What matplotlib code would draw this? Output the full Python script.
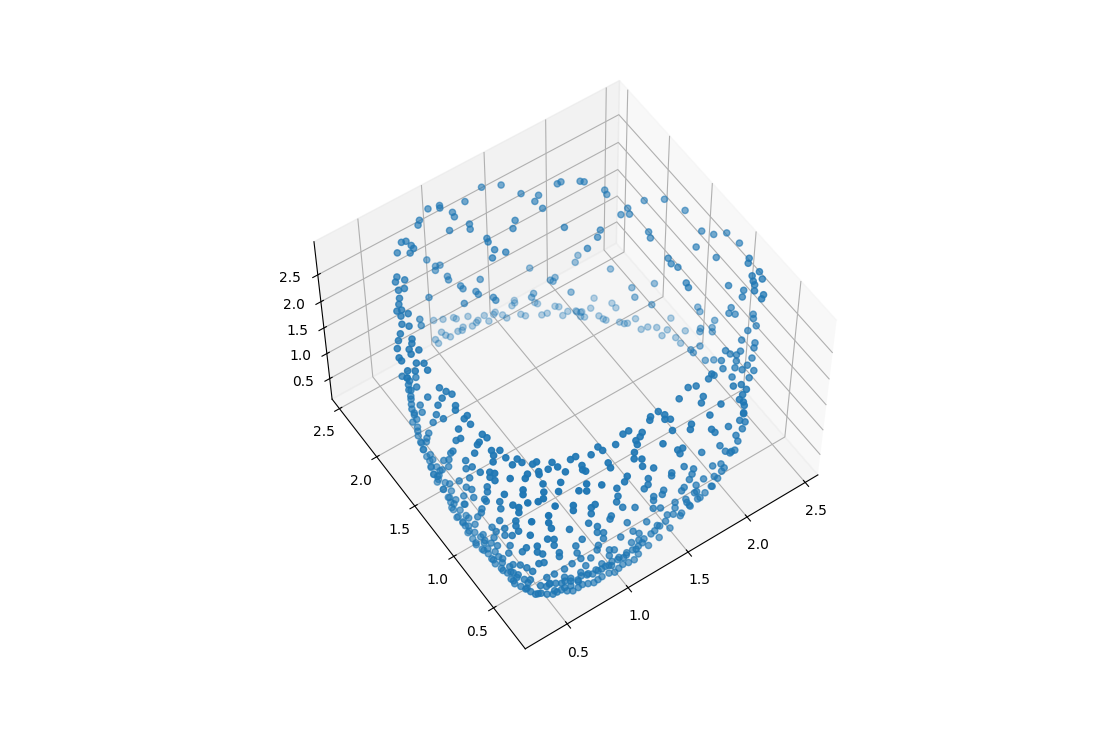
import matplotlib
matplotlib.use('Agg')
import matplotlib.pyplot as plt
import numpy as np

# far ring, z about 0.45
ring_x = [1.57,1.56,1.53,1.68,1.69,1.78,1.80,1.83,1.88,1.91,1.70,1.66,1.78,1.54,1.56,1.40,1.38,1.43,1.44,1.32,
          1.32,1.26,1.24,1.20,1.22,1.13,1.14,1.06,1.00,1.14,1.12,1.09,0.99,1.00,1.02,0.92,0.92,
          1.88,1.90,1.88,1.90,1.98,2.05,1.99,2.00,2.01,2.13,2.13,2.08,2.10,2.12,2.19,2.17,2.22,2.27,2.40,2.32,2.26,2.33,2.33,2.42]
ring_y = [2.52,2.50,2.49,2.42,2.40,2.31,2.29,2.22,2.18,2.16,2.29,2.30,2.21,2.39,2.36,2.51,2.50,2.46,2.42,2.53,
          2.47,2.52,2.51,2.50,2.59,2.64,2.62,2.67,2.70,2.53,2.51,2.52,2.58,2.54,2.51,2.55,2.51,
          2.19,2.16,2.13,2.11,2.15,2.21,2.06,2.02,2.00,2.10,2.05,1.93,1.90,1.89,1.89,1.79,1.78,1.74,1.75,1.68,1.66,1.59,1.53,1.60]
ring_level = 0.45

# back points, z about 1.3
mid_x = [1.61,1.95,1.90,1.71,1.67,1.68,1.73,1.51,1.48,2.07,2.10,2.07,2.25,2.13,2.38,2.37,2.29,2.27,2.41,2.36,2.34,2.20,2.13,2.13,2.16,2.21]
mid_y = [2.37,2.27,2.23,2.20,2.20,2.18,2.03,2.17,2.15,2.04,1.82,1.74,1.76,1.62,1.42,1.38,1.26,1.24,1.26,1.22,1.19,1.14,1.15,1.12,1.02,0.99]
mid_level = 1.3

# left wall points, z about 1.9
wall_x = [0.92,0.94,0.97,0.92,0.96,0.95,1.13,0.99,0.99,1.05,1.05,0.76,1.12,1.12,0.93,0.61,0.59]
wall_y = [2.60,2.52,2.51,2.49,2.40,2.37,2.25,2.28,2.25,2.18,2.15,2.32,2.07,2.04,2.14,2.20,2.15]
wall_level = 1.9

# top arc on the left, z about 2.6
top_x = [1.40,1.52,1.59,1.68,1.63,1.64,1.84,1.87,1.98,2.00,1.00,1.08,1.07,1.24,1.12,1.11,0.90,0.87,1.02,1.16,
         1.14,1.43,1.38,1.67,1.19,1.18,1.18,1.23,1.13,0.70,0.73,0.74,0.74,0.63,0.70]
top_y = [2.63,2.57,2.43,2.35,2.32,2.24,2.36,2.36,2.29,2.27,2.68,2.66,2.64,2.59,2.56,2.52,2.63,2.60,2.44,2.41,
         2.37,2.26,2.21,2.02,2.24,2.21,2.13,2.07,2.08,2.54,2.53,2.48,2.45,2.48,2.43]
top_level = 2.6

# top arc on the right, z about 2.4
topr_x = [2.13,2.12,2.30,2.42,2.17,2.15,2.10,2.48,2.47,2.52,2.60,2.62,2.17,2.15,2.36,1.91,1.86,1.75,2.15,2.14,2.16,2.42,2.13,2.12,2.35,2.41,2.37]
topr_y = [2.21,2.17,1.98,1.91,1.99,1.94,1.97,1.75,1.54,1.47,1.43,1.31,1.74,1.69,1.45,1.94,1.90,1.86,1.48,1.43,1.38,1.30,1.24,1.20,1.06,0.97,0.93]
topr_level = 2.4

# dark right column, z about 2.7
rdark_x = [2.51,2.48,2.50,2.44,2.42,2.41,2.48,2.38,2.41,2.38]
rdark_y = [1.06,1.03,0.93,0.93,0.89,0.86,0.87,0.82,0.76,0.74]
rdark_level = 2.7

# lower right column, z about 2.0
rmid_x = [2.37,2.33,2.36,2.46,2.44,2.42,2.35,2.27,2.33,2.30,2.13,2.14,2.17,2.21,2.24,2.06,2.14,2.18,2.03,2.10,2.13,2.19,1.95,2.04,2.13]
rmid_y = [1.04,1.01,0.98,0.91,0.88,0.82,0.82,0.78,0.71,0.68,0.77,0.73,0.70,0.71,0.62,0.72,0.66,0.59,0.66,0.62,0.58,0.53,0.65,0.57,0.50]
rmid_level = 2.0

# dark left column, z about 2.6
ldark_x = [0.52,0.49,0.55,0.51,0.47,0.44,0.41,0.37,0.40,0.42,0.37,0.34,0.37,0.29,0.25,0.33,0.31,0.21,0.18,0.18,0.27,0.32,0.26,0.25,0.29,0.17,0.21,0.28]
ldark_y = [2.31,2.28,2.26,2.20,2.21,2.15,2.11,2.07,2.06,2.01,2.02,1.96,1.92,1.90,1.86,1.82,1.79,1.81,1.74,1.71,1.76,1.72,1.72,1.64,1.61,1.62,1.59,1.55]
ldark_level = 2.6

# short run at the foot of the left column, z about 2.0
lfoot_x = [0.24,0.26,0.31]
lfoot_y = [1.83,1.80,1.77]
lfoot_level = 2.0

# bowl outline, left half
edge_x = [0.25,0.25,0.25,0.25,0.25,0.25,0.25,0.25,0.25,0.25,
          0.25,0.25,0.25,0.25,0.25,0.25,0.25,0.25,0.25,0.25,
          0.25,0.25,0.25,0.25,0.25,0.25,0.25,0.25,0.25,0.25,
          0.27,0.40,0.48]
edge_y = [1.78,1.75,1.77,1.75,1.75,1.63,1.61,1.66,1.52,1.72,
          1.75,1.69,1.66,1.63,1.59,1.54,1.51,1.45,1.39,1.33,
          1.29,1.21,1.12,1.09,0.99,0.89,0.77,0.65,0.52,0.37,
          0.25,0.25,0.25]
edge_z = [2.05,2.05,1.84,1.76,1.60,1.82,1.72,2.11,2.19,1.49,
          1.25,1.19,1.03,0.94,0.88,0.78,0.68,0.70,0.62,0.58,
          0.45,0.43,0.43,0.35,0.35,0.41,0.47,0.51,0.58,0.74,
          0.88,0.74,0.68]

# bowl interior, left half
left_x = [0.32,0.34,0.36,0.29,0.25,0.25,0.25,0.25,0.25,0.25,
          0.33,0.31,0.32,0.35,0.33,0.25,0.25,0.25,0.35,0.36,
          0.30,0.28,0.25,0.25,0.33,0.375,0.32,0.25,0.375,0.29,
          0.38,0.43,0.44,0.49,0.52,0.60,0.61,0.63,0.55,0.49,
          0.42,0.39,0.48,0.31,0.25,0.25,0.25,0.25,0.25,0.25,
          0.25,0.25,0.25,0.46,0.56,0.25,0.25,0.25,0.25,0.25,
          0.25,0.25,0.25,0.25,0.25,0.25,0.25,0.25,0.25,0.25,
          0.25,0.25,0.33,0.31,0.43,0.40,0.51,0.25,0.25,0.25,
          0.25,0.25,0.25,0.25,0.30,0.36,0.25,0.25,0.25,0.25,
          0.25,0.25,0.25,0.25,0.25,0.25,0.25,0.25,0.25,0.25,
          0.25,0.25,0.25,0.25,0.25,0.25,0.25,0.36,0.38,0.43,
          0.36,0.25,0.25,0.25,0.25,0.25,0.25,0.25,0.25,0.25,
          0.25,0.27,0.27,0.31,0.35,0.40,0.40,0.44,0.44,0.28,
          0.25,0.32,0.34,0.25,0.25,0.25,0.25,0.25,0.25,0.40,
          0.48,0.48,0.36]
left_y = [1.48,1.43,1.39,1.40,1.39,1.42,1.47,1.54,1.57,1.33,
          1.30,1.27,1.18,1.19,1.12,1.14,1.12,1.18,1.01,0.97,
          0.97,0.96,1.23,1.26,0.87,0.84,0.83,0.95,0.77,0.79,
          0.70,0.72,0.68,0.63,0.63,0.57,0.52,0.46,0.54,0.56,
          0.585,0.565,0.54,0.62,0.89,1.07,0.99,1.07,1.03,0.77,
          0.71,0.77,0.71,0.465,0.41,1.29,1.36,1.30,1.39,1.42,
          1.46,1.51,1.54,1.17,1.30,1.08,1.01,0.99,1.12,0.81,
          0.81,0.60,0.50,0.47,0.41,0.37,0.36,0.85,0.83,0.66,
          0.65,0.50,0.43,0.43,0.40,0.37,1.23,1.12,1.11,1.30,
          0.89,0.90,0.95,0.99,1.07,1.15,0.67,0.47,0.47,0.44,
          0.61,0.77,0.72,0.61,0.52,0.30,0.28,0.25,0.25,0.28,
          0.25,0.89,0.75,0.87,0.71,0.79,0.55,0.57,0.65,0.40,
          0.35,0.25,0.25,0.25,0.25,0.25,0.25,0.25,0.25,0.25,
          0.28,0.25,0.25,0.35,0.43,0.52,0.55,0.46,0.31,0.25,
          0.25,0.25,0.25]
left_z = [2.35,2.35,2.35,2.35,2.29,2.05,1.80,1.45,1.29,2.15,
          2.35,2.35,2.35,2.35,2.35,2.33,2.19,2.03,2.35,2.35,
          2.35,2.35,1.72,1.62,2.35,2.35,2.35,2.25,2.35,2.35,
          2.35,2.35,2.35,2.35,2.35,2.35,2.35,2.35,2.35,2.35,
          2.35,2.35,2.35,2.35,2.00,1.86,1.90,1.70,1.60,2.25,
          2.35,2.15,2.21,2.35,2.35,1.43,1.27,1.27,1.02,0.94,
          0.74,0.98,0.76,1.25,0.92,1.31,1.41,1.29,1.05,1.88,
          1.78,2.17,2.35,2.35,2.35,2.35,2.35,1.55,1.55,1.90,
          1.78,2.17,2.27,2.17,2.35,2.35,0.74,0.88,0.90,0.54,
          1.27,1.17,0.98,0.74,0.70,0.45,1.50,1.92,1.82,1.78,
          1.47,1.15,1.17,1.33,1.52,2.00,2.31,2.19,2.05,2.35,
          2.33,0.74,0.98,0.66,0.90,0.78,1.25,1.05,0.76,1.45,
          1.64,1.86,1.74,1.64,1.88,1.80,1.68,1.47,1.39,1.49,
          1.31,1.45,1.11,1.23,1.11,0.92,0.70,0.84,1.07,1.09,
          1.07,0.90,0.94]

# bowl, right half
right_x = [1.66,1.71,1.81,1.85,1.56,1.66,1.70,1.76,1.65,1.78,
           1.51,1.48,1.64,1.67,1.39,1.325,1.305,1.41,1.42,1.39,
           1.38,1.145,1.10,1.21,1.14,1.015,1.18,1.13,1.27,0.91,
           0.92,0.84,0.75,0.71,1.08,1.05,1.09,1.09,1.18,0.895,
           0.886,0.745,0.73,0.74,1.37,1.41,1.39,1.57,1.72,1.77,
           1.81,1.85,1.85,1.90,1.90,1.90,1.88,1.965,1.91,1.67,
           1.74,1.77,1.69,1.72,1.67,1.62,1.56,1.50,1.43,1.36,
           1.31,1.25,1.33,1.33,1.43,1.51,1.50,1.48,1.14,1.14,
           1.11,0.97,0.95,0.77,0.69,0.66,0.62,0.89,0.90,0.89,
           0.94,1.04,0.69,0.72,0.69,0.55,0.55,0.85,0.84,0.67,
           0.98,1.14,1.19,1.19,1.27,1.26,1.19,1.25,1.44,1.42,
           1.54,1.60,1.53,1.37,1.47,0.74,0.74,0.79,0.79,0.93,
           1.03,1.08,1.02,1.08,1.18,1.23,1.11,1.06,0.57,0.58,
           0.62,0.52,0.75,0.74,0.84,0.88,0.61,0.69,0.54,0.65,
           0.78,0.84,0.92,0.98,0.86,0.75,0.67,0.61,0.53,0.59,
           0.53,0.81]
right_y = [0.55,0.53,0.53,0.55,0.51,0.40,0.435,0.32,0.29,0.25,
           0.30,0.27,0.25,0.25,0.505,0.50,0.48,0.46,0.41,0.43,
           0.33,0.49,0.49,0.43,0.40,0.45,0.41,0.37,0.28,0.50,
           0.46,0.475,0.52,0.52,0.33,0.29,0.26,0.25,0.25,0.36,
           0.32,0.44,0.41,0.39,0.25,0.25,0.25,0.25,0.25,0.25,
           0.25,0.25,0.25,0.25,0.25,0.25,0.28,0.32,0.39,0.25,
           0.25,0.25,0.25,0.25,0.25,0.25,0.25,0.25,0.25,0.25,
           0.25,0.25,0.25,0.25,0.25,0.25,0.25,0.25,0.25,0.25,
           0.25,0.25,0.25,0.25,0.305,0.26,0.29,0.25,0.25,0.25,
           0.25,0.25,0.25,0.25,0.25,0.25,0.25,0.25,0.25,0.25,
           0.25,0.25,0.25,0.25,0.25,0.25,0.25,0.25,0.25,0.25,
           0.25,0.25,0.25,0.25,0.25,0.25,0.25,0.25,0.25,0.25,
           0.25,0.25,0.25,0.25,0.25,0.25,0.25,0.25,0.25,0.25,
           0.25,0.25,0.25,0.25,0.25,0.25,0.25,0.25,0.25,0.25,
           0.25,0.25,0.25,0.25,0.25,0.25,0.25,0.25,0.25,0.25,
           0.25,0.25]
right_z = [2.35,2.35,2.35,2.35,2.35,2.35,2.35,2.35,2.35,2.03,
           2.35,2.35,2.17,2.07,2.35,2.35,2.35,2.35,2.35,2.35,
           2.35,2.35,2.35,2.35,2.35,2.35,2.35,2.35,2.35,2.35,
           2.35,2.35,2.35,2.35,2.35,2.35,2.35,2.23,2.07,2.35,
           2.35,2.35,2.35,2.35,2.15,2.13,2.05,1.82,1.74,1.56,
           1.47,1.47,1.76,1.82,2.11,2.27,2.35,2.35,2.35,1.41,
           1.35,1.23,1.17,1.09,1.00,0.94,0.90,0.84,0.80,0.88,
           0.94,0.80,1.76,1.70,1.74,1.58,1.49,1.41,1.92,1.80,
           1.76,2.21,2.13,2.33,2.35,2.35,2.35,2.09,1.92,1.82,
           1.64,1.49,2.00,2.02,1.88,2.25,2.15,1.60,1.55,1.72,
           1.27,1.05,1.49,1.41,1.50,1.43,1.25,1.17,1.31,1.27,
           1.21,1.25,1.07,1.11,0.96,1.55,1.43,1.35,1.23,1.05,
           1.02,0.90,0.80,0.76,0.74,0.84,0.66,0.60,1.41,1.25,
           1.47,1.82,1.15,1.07,0.92,0.86,1.09,0.98,1.09,0.88,
           0.72,0.80,0.64,0.60,0.56,0.62,0.68,0.80,0.80,0.64,
           0.64,0.62]

# dense band along the outline, left part
bandl_y = [1.63,1.57,1.51,1.45,1.39,1.33,1.27,1.21,1.15,1.09,1.03,0.97,0.91,0.85,0.79,0.73,0.67,0.61,0.55,0.49,0.43,0.37,0.31,
           1.77,1.76,1.75,1.73,1.72,1.71,1.69,1.67,1.65]
bandl_z = [0.94,0.82,0.68,0.66,0.62,0.56,0.45,0.43,0.43,0.37,0.35,0.37,0.39,0.41,0.45,0.49,0.51,0.53,0.55,0.60,0.66,0.74,0.82,
           1.94,1.84,1.70,1.56,1.45,1.37,1.27,1.15,1.03]
bandl_x = [0.25, 0.26, 0.25, 0.24, 0.25, 0.26, 0.25, 0.24, 0.25, 0.26, 0.25, 0.24, 0.25, 0.26, 0.25, 0.24, 0.25, 0.26, 0.25, 0.24, 0.25, 0.26, 0.25,
           0.25, 0.26, 0.25, 0.24, 0.25, 0.26, 0.25, 0.24, 0.25]
bandl2_y = [1.60,1.54,1.48,1.42,1.36,1.30,1.24,1.18,1.12,1.06,1.00,0.94,0.88,0.82,0.76,0.70,0.64,0.58,0.52,0.46,0.40,0.34]
bandl2_z = [1.14,1.02,0.88,0.86,0.82,0.76,0.65,0.63,0.63,0.57,0.55,0.57,0.59,0.61,0.65,0.69,0.71,0.73,0.75,0.80,0.86,0.94]
bandl2_x = [0.26, 0.25, 0.26, 0.24, 0.25, 0.26, 0.24, 0.25, 0.26, 0.24, 0.25, 0.26, 0.25, 0.24, 0.26, 0.25, 0.24, 0.26, 0.25, 0.24, 0.26, 0.25]

# dense band along the outline, right part
bandr_x = [0.25,0.30,0.34,0.38,0.42,0.46,0.50,0.54,0.59,0.63,0.67,0.71,0.75,0.79,0.84,0.88,0.92,0.96,1.00,1.04,1.08,
           1.17,1.25,1.33,1.42,1.50,1.58,1.67,1.75,1.83,1.87,1.91,1.90,1.88]
bandr_z = [0.90,0.82,0.76,0.72,0.68,0.64,0.58,0.54,0.51,0.49,0.47,0.45,0.43,0.41,0.43,0.41,0.41,0.41,0.41,0.43,0.47,
           0.49,0.56,0.66,0.76,0.84,0.90,1.02,1.19,1.45,1.62,1.96,2.13,1.99]
bandr_y = [0.25, 0.26, 0.25, 0.24, 0.25, 0.26, 0.25, 0.24, 0.25, 0.26, 0.25, 0.24, 0.25, 0.26, 0.25, 0.24, 0.25, 0.26, 0.25, 0.24, 0.25,
           0.26, 0.25, 0.24, 0.25, 0.26, 0.25, 0.24, 0.25, 0.26, 0.25, 0.24, 0.25, 0.26]
bandr2_x = [0.29,0.33,0.37,0.41,0.45,0.49,0.53,0.58,0.62,0.66,0.70,0.74,0.78,0.83,0.87,0.91,0.95,0.99,1.03,1.07,1.13,1.21,1.29,1.38,1.46,1.54]
bandr2_z = [1.02,0.96,0.92,0.88,0.84,0.78,0.74,0.71,0.69,0.67,0.65,0.63,0.61,0.63,0.61,0.61,0.61,0.61,0.63,0.67,0.69,0.76,0.86,0.96,1.04,1.10]
bandr2_y = [0.25, 0.24, 0.26, 0.25, 0.24, 0.26, 0.25, 0.24, 0.26, 0.25, 0.24, 0.26, 0.25, 0.24, 0.26, 0.25, 0.24, 0.26, 0.25, 0.24, 0.26, 0.25, 0.24, 0.26, 0.25, 0.24]
rcap_x = [1.96, 1.92, 1.89]
rcap_y = [0.37, 0.30, 0.25]
rcap_z = [2.35, 2.35, 2.35]

# calibration of the values read above against the final limits
x_shift = 0.03
y_shift = -0.095
z_shift = 0.065

layers = [(ring_x, ring_y, ring_level), (mid_x, mid_y, mid_level), (wall_x, wall_y, wall_level),
          (top_x, top_y, top_level), (topr_x, topr_y, topr_level), (rdark_x, rdark_y, rdark_level),
          (rmid_x, rmid_y, rmid_level), (ldark_x, ldark_y, ldark_level), (lfoot_x, lfoot_y, lfoot_level)]
xs = np.concatenate([np.array(a) for a, b, c in layers] + [edge_x, left_x, right_x, bandl_x, bandl2_x, bandr_x, bandr2_x, rcap_x]) + x_shift
ys = np.concatenate([np.array(b) for a, b, c in layers] + [edge_y, left_y, right_y, bandl_y, bandl2_y, bandr_y, bandr2_y, rcap_y]) + y_shift
zs = np.concatenate([np.full(len(a), c) for a, b, c in layers] + [edge_z, left_z, right_z, bandl_z, bandl2_z, bandr_z, bandr2_z, rcap_z]) + z_shift

fig = plt.figure(figsize=(11.03, 7.31), dpi=100)
ax = fig.add_subplot(projection='3d')
ax.scatter(xs, ys, zs)
ax.set_xlim(0.16, 2.61)
ax.set_ylim(0.11, 2.6)
ax.set_zlim(0.08, 3.1)
ax.set_xticks([0.5, 1.0, 1.5, 2.0, 2.5])
ax.set_yticks([0.5, 1.0, 1.5, 2.0, 2.5])
ax.set_zticks([0.5, 1.0, 1.5, 2.0, 2.5])
ax.view_init(elev=55, azim=-124.4)
fig.savefig('out.png', dpi=100)
